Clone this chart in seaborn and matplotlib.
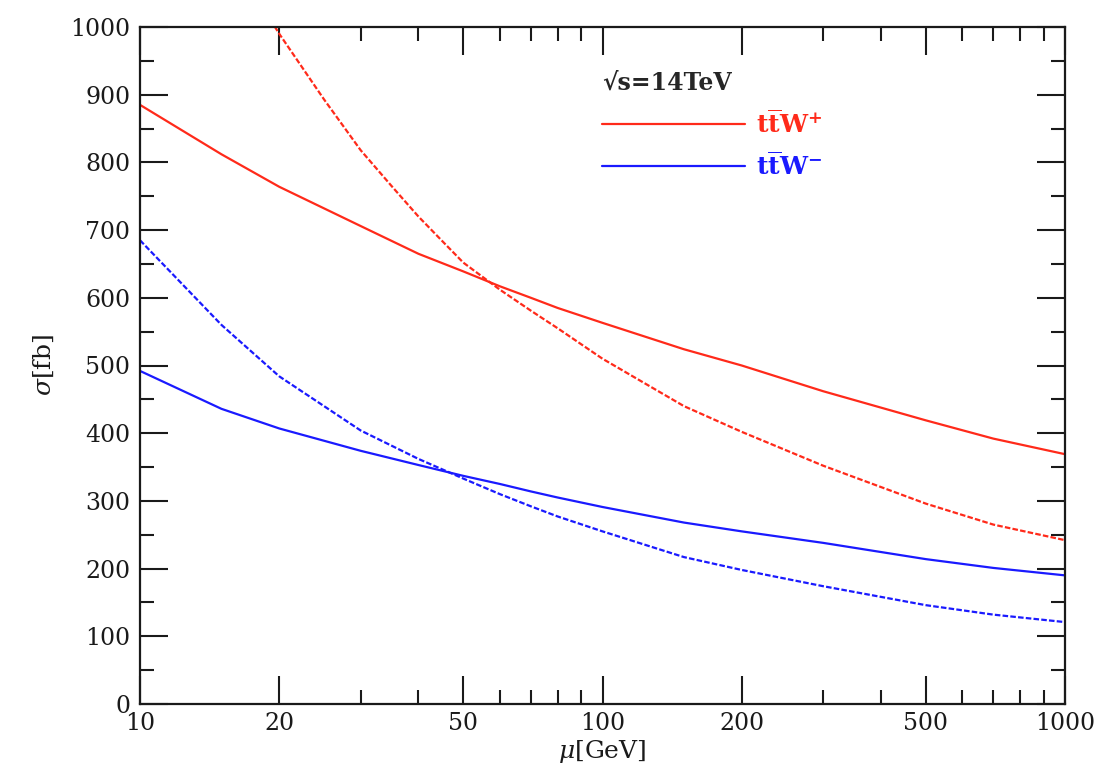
import numpy as np
import pandas as pd
import matplotlib
matplotlib.use("Agg")
import matplotlib.pyplot as plt
import matplotlib.ticker as mticker
from matplotlib.lines import Line2D
import seaborn as sns

sns.set_theme(style="ticks")
plt.rcParams['font.family'] = ['DejaVu Serif']
plt.rcParams['mathtext.fontset'] = 'dejavuserif'

mu = [10, 15, 20, 30, 40, 50, 60, 70, 80, 100, 150, 200, 300, 500, 700, 1000]
wplus_solid = [885, 812, 764, 706, 665, 639, 617, 600, 585, 563, 524, 500, 462, 419, 392, 369]
mu_wplus_dash = [18, 20, 25, 30, 35, 40, 45, 50, 60, 70, 80, 100, 150, 200, 300, 500, 700, 1000]
wplus_dash = [1040, 990, 893, 818, 765, 720, 684, 652, 612, 581, 555, 510, 440, 402, 352, 296, 265, 242]
wminus_solid = [492, 436, 407, 374, 353, 337, 325, 314, 305, 291, 268, 255, 238, 214, 201, 190]
wminus_dash = [685, 560, 484, 404, 362, 333, 310, 292, 277, 255, 217, 198, 174, 146, 132, 121]

fig = plt.figure(figsize=(11.04, 7.74), dpi=100)
ax = fig.add_axes([140 / 1104, 70 / 774, 925 / 1104, 677 / 774])

red = '#ff2a1a'
blue = '#1a1aff'
dash = (0, (2.5, 1.0))
lw = 1.6
sns.lineplot(x=mu, y=wplus_solid, ax=ax, color=red, lw=lw)
sns.lineplot(x=mu_wplus_dash, y=wplus_dash, ax=ax, color=red, lw=lw, linestyle=dash)
sns.lineplot(x=mu, y=wminus_solid, ax=ax, color=blue, lw=lw)
sns.lineplot(x=mu, y=wminus_dash, ax=ax, color=blue, lw=lw, linestyle=dash)

ax.set_xscale('log')
ax.set_xlim(10, 1000)
ax.set_ylim(0, 1000)
ax.xaxis.set_major_locator(mticker.FixedLocator([10, 20, 50, 100, 200, 500, 1000]))
ax.xaxis.set_major_formatter(mticker.FixedFormatter(['10', '20', '50', '100', '200', '500', '1000']))
ax.xaxis.set_minor_locator(mticker.FixedLocator([30, 40, 60, 70, 80, 90, 300, 400, 600, 700, 800, 900]))
ax.xaxis.set_minor_formatter(mticker.NullFormatter())
ax.yaxis.set_major_locator(mticker.MultipleLocator(100))
ax.yaxis.set_minor_locator(mticker.MultipleLocator(50))
ax.tick_params(which='both', direction='in', top=True, right=True, width=1.5,
               colors='#1a1a1a')
ax.tick_params(which='major', length=20, labelsize=17)
ax.tick_params(which='minor', length=10)
ax.tick_params(axis='x', which='major', pad=6)
ax.tick_params(axis='y', which='major', pad=7)
for s in ax.spines.values():
    s.set_linewidth(1.6)
    s.set_color('#1a1a1a')

ax.set_xlabel(r'$\mu$[GeV]', fontsize=18, labelpad=2, color='#1a1a1a')
ax.set_ylabel(r'$\sigma$[fb]', fontsize=18, labelpad=10, color='#1a1a1a')

handles = [Line2D([], [], color=red, lw=lw), Line2D([], [], color=blue, lw=lw)]
labels = [r'$\mathbf{t\overline{t}W^{+}}$', r'$\mathbf{t\overline{t}W^{-}}$']
leg = ax.legend(handles, labels,
                title='√s=14TeV', frameon=False,
                prop={'size': 18, 'weight': 'bold'},
                title_fontproperties={'size': 17, 'weight': 'bold'},
                handlelength=5.7, labelcolor='linecolor', loc='upper left',
                bbox_to_anchor=(602 / 1104, (774 - 71) / 774),
                bbox_transform=fig.transFigure, borderpad=0.0, borderaxespad=0.0,
                labelspacing=0.58, handletextpad=0.45, alignment='left')
fig.savefig('out.png', dpi=100)
